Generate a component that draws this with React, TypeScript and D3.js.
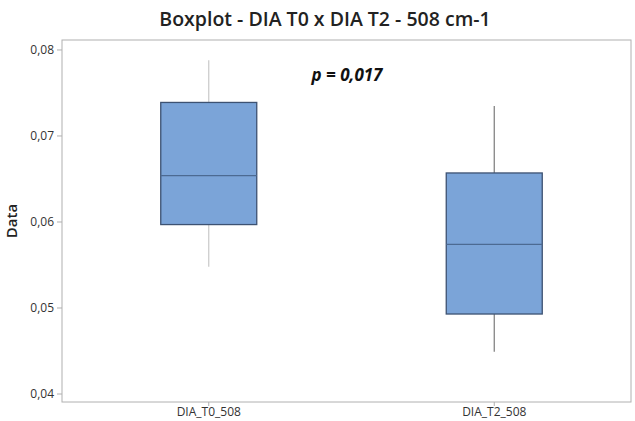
import React from "react";
import * as d3 from "d3";

const categories = ["DIA_T0_508", "DIA_T2_508"];
const whiskerLow = [0.0548, 0.0449];
const q1 = [0.0597, 0.0493];
const median = [0.0654, 0.0574];
const q3 = [0.0739, 0.0657];
const whiskerHigh = [0.0788, 0.0735];
const yTicks = [0.04, 0.05, 0.06, 0.07, 0.08];
const pLabel = "p = 0,017";

const W = 635;
const H = 421;
const left = 62;
const right = 631;
const top = 40;
const bottom = 402;

const fmt = (v: number) => d3.format(".2f")(v).replace(".", ",");

export default function App() {
  const y = d3.scaleLinear().domain([0.03907, 0.08116]).range([bottom, top]);
  const x = d3.scalePoint<string>().domain(categories).range([left + 4, right + 6]).padding(0.5);
  const boxW = 96;
  const font = "'Open Sans', 'Noto Sans', sans-serif";
  const whiskerColors = ["#c8c8c8", "#7a7a7a"];

  return (
    <svg width={W} height={H} style={{ position: "absolute", left: 0, top: 0, background: "#fff" }}>
      <text x={325} y={26} textAnchor="middle" fontFamily={font} fontSize={19.5} fontWeight={600} fill="#222">
        Boxplot - DIA T0 x DIA T2 - 508 cm-1
      </text>
      <rect x={left} y={top} width={right - left} height={bottom - top} fill="none" stroke="#b0b0b0" strokeWidth={1} />
      {yTicks.map((t) => (
        <g key={t}>
          <line x1={left - 5} x2={left} y1={y(t)} y2={y(t)} stroke="#b0b0b0" />
          <text x={left - 8} y={y(t)} dy="0.35em" textAnchor="end" fontFamily={font} fontSize={12} fill="#333">
            {fmt(t)}
          </text>
        </g>
      ))}
      <text
        transform={`translate(17, ${(top + bottom) / 2}) rotate(-90)`}
        textAnchor="middle"
        fontFamily={font}
        fontSize={15}
        fontWeight={600}
        fill="#222"
      >
        Data
      </text>
      {categories.map((c, i) => {
        const cx = x(c) as number;
        return (
          <g key={c}>
            <line x1={cx} x2={cx} y1={bottom} y2={bottom + 4} stroke="#b0b0b0" />
            <text x={cx} y={bottom + 14} textAnchor="middle" fontFamily={font} fontSize={12} fill="#333">
              {c}
            </text>
            <line x1={cx} x2={cx} y1={y(whiskerHigh[i])} y2={y(q3[i])} stroke={whiskerColors[i]} strokeWidth={1.2} />
            <line x1={cx} x2={cx} y1={y(q1[i])} y2={y(whiskerLow[i])} stroke={whiskerColors[i]} strokeWidth={1.2} />
            <rect
              x={cx - boxW / 2}
              y={y(q3[i])}
              width={boxW}
              height={y(q1[i]) - y(q3[i])}
              fill="#7ba4d8"
              stroke="#3d5272"
              strokeWidth={1.3}
            />
            <line
              x1={cx - boxW / 2}
              x2={cx + boxW / 2}
              y1={y(median[i])}
              y2={y(median[i])}
              stroke="#4c6a92"
              strokeWidth={1.2}
            />
          </g>
        );
      })}
      <text x={347} y={81} textAnchor="middle" fontFamily={font} fontSize={17} fontWeight={700} fontStyle="italic" fill="#111">
        {pLabel}
      </text>
    </svg>
  );
}
